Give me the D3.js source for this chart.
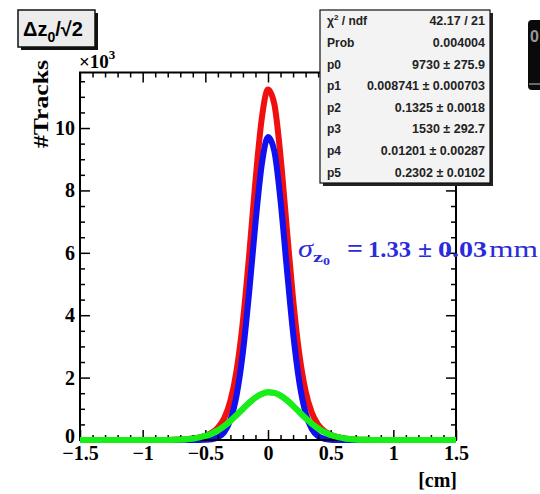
<!DOCTYPE html>
<html><head><meta charset="utf-8">
<script src="https://cdn.jsdelivr.net/npm/d3@7"></script>
<style>body{margin:0;background:#fff}svg{display:block}</style>
</head><body><svg id="c" width="540" height="494"></svg>
<script>
// ---- data ----
const xs = [-1.5,-1.0,-0.95,-0.9,-0.85,-0.8,-0.75,-0.7,-0.65,-0.6,-0.55,-0.5,-0.45,-0.4,-0.35,-0.3,-0.25,-0.2,-0.15,-0.1,-0.05,0,0.05,0.1,0.15,0.2,0.25,0.3,0.35,0.4,0.45,0.5,0.55,0.6,0.65,0.7,0.75,0.8,0.85,0.9,0.95,1.0,1.5];
const blueY = [0,0,0,0,0,0,0,0,0,0.3,1.3,6,24,84,249,645,1447,2814,4749,6950,8820,9709,9269,7674,5510,3432,1853,868,353,124,38,10,2.3,0.5,0,0,0,0,0,0,0,0,0];
const greenY = [0,0.1,0.25,0.6,1.4,3.0,6.4,12.8,24.5,44.7,77.7,129,204,308,444,611,801,1001,1194,1359,1476,1528,1509,1422,1278,1096,897,700,521,370,250,162,100,59,33,17.6,9.0,4.4,2.0,0.9,0.4,0.2,0];
const redY = [0,0.1,0.25,0.6,1.4,3.0,6.4,12.8,24.5,45,79,135,228,392,693,1256,2248,3815,5943,8309,10296,11237,10778,9096,6788,4528,2750,1568,874,494,288,172,102,59.5,33,17.6,9.0,4.4,2.0,0.9,0.4,0.2,0];
const xMajor = [-1.5,-1,-0.5,0,0.5,1,1.5];
const xTickLabels = ["\u22121.5","\u22121","\u22120.5","0","0.5","1","1.5"];
const yMajor = [0,2000,4000,6000,8000,10000];
const yTickLabels = ["0","2","4","6","8","10"];
const statNames = ["\u03c7\u00b2 / ndf","Prob","p0","p1","p2","p3","p4","p5"];
const statValues = ["42.17 / 21","0.004004","9730 \u00b1 275.9","0.008741 \u00b1 0.000703","0.1325 \u00b1 0.0018","1530 \u00b1 292.7","0.01201 \u00b1 0.00287","0.2302 \u00b1 0.0102"];

// ---- layout ----
const svg = d3.select("#c");
const L=80, R=456, T=72.5, B=440;
const x = d3.scaleLinear().domain([-1.5,1.5]).range([L,R]);
const y = d3.scaleLinear().domain([0,11780]).range([B,T]);
const xMinor = d3.range(-15,16).map(d=>d/10).filter(d=>Math.abs(d*2-Math.round(d*2))>1e-6);
const yMinor = d3.range(0,11780,500).filter(d=>d%2000!==0);
const serif = "'Liberation Serif','Times New Roman',serif";
const sans = "'Liberation Sans',Arial,sans-serif";

// curves
const line = d3.line().x((d,i)=>x(xs[i])).y(d=>y(d)).curve(d3.curveMonotoneX);
[[redY,"#f01010"],[blueY,"#1010f0"],[greenY,"#18ee18"]].forEach(([arr,col])=>{
  svg.append("path").attr("d",line(arr)).attr("fill","none").attr("stroke",col)
     .attr("stroke-width",6).attr("stroke-linejoin","round");
});

function styleAxis(g){g.select(".domain").remove();g.selectAll("line").attr("stroke","#000").attr("stroke-width",1.5);}
// bottom
svg.append("g").attr("transform",`translate(0,${B})`)
  .call(d3.axisBottom(x).tickValues(xMajor).tickSize(-10).tickPadding(6).tickFormat((d,i)=>xTickLabels[i]))
  .call(styleAxis)
  .call(g=>g.selectAll("text").attr("font-family",serif).attr("font-weight","bold").attr("font-size",20).attr("fill","#000"));
svg.append("g").attr("transform",`translate(0,${B})`)
  .call(d3.axisBottom(x).tickValues(xMinor).tickSize(-5).tickFormat("")).call(styleAxis);
// top
svg.append("g").attr("transform",`translate(0,${T})`)
  .call(d3.axisTop(x).tickValues(xMajor).tickSize(-10).tickFormat("")).call(styleAxis);
svg.append("g").attr("transform",`translate(0,${T})`)
  .call(d3.axisTop(x).tickValues(xMinor).tickSize(-5).tickFormat("")).call(styleAxis);
// left
svg.append("g").attr("transform",`translate(${L},0)`)
  .call(d3.axisLeft(y).tickValues(yMajor).tickSize(-10).tickPadding(5).tickFormat((d,i)=>yTickLabels[i]))
  .call(styleAxis)
  .call(g=>g.selectAll("text").attr("font-family",serif).attr("font-weight","bold").attr("font-size",20).attr("fill","#000"))
  .call(g=>g.selectAll(".tick").filter(d=>d===0).select("text").attr("dy","0.1em"));
svg.append("g").attr("transform",`translate(${L},0)`)
  .call(d3.axisLeft(y).tickValues(yMinor).tickSize(-5).tickFormat("")).call(styleAxis);
// right
svg.append("g").attr("transform",`translate(${R},0)`)
  .call(d3.axisRight(y).tickValues(yMajor).tickSize(-10).tickFormat("")).call(styleAxis);
svg.append("g").attr("transform",`translate(${R},0)`)
  .call(d3.axisRight(y).tickValues(yMinor).tickSize(-5).tickFormat("")).call(styleAxis);

// frame
svg.append("rect").attr("x",L).attr("y",T).attr("width",R-L).attr("height",B-T)
  .attr("fill","none").attr("stroke","#000").attr("stroke-width",2);
// green baseline on top of frame
svg.append("path").attr("d",line(greenY)).attr("fill","none").attr("stroke","#18ee18")
   .attr("stroke-width",6).attr("stroke-linejoin","round");

// x10^3
const e = svg.append("text").attr("x",79).attr("y",68).attr("font-family",serif).attr("font-weight","bold").attr("font-size",19);
e.append("tspan").text("\u00d710");
e.append("tspan").attr("font-size",13).attr("dy",-9).text("3");

// axis titles
svg.append("text").attr("transform","translate(48,60) rotate(-90)").attr("text-anchor","end")
  .attr("font-family",serif).attr("font-weight","bold").attr("font-size",22)
  .attr("textLength",88).attr("lengthAdjust","spacingAndGlyphs").text("#Tracks");
svg.append("text").attr("x",457).attr("y",487).attr("text-anchor","end")
  .attr("font-family",serif).attr("font-weight","bold").attr("font-size",20).text("[cm]");

// title box
svg.append("rect").attr("x",21).attr("y",13).attr("width",77).attr("height",37).attr("fill","#111");
svg.append("rect").attr("x",18).attr("y",10).attr("width",77).attr("height",37).attr("fill","#ececec").attr("stroke","#111").attr("stroke-width",1.5);
const tt = svg.append("text").attr("x",23).attr("y",36).attr("font-family",sans).attr("font-weight","bold").attr("font-size",20).attr("fill","#000");
tt.append("tspan").text("\u0394z");
tt.append("tspan").attr("font-size",14).attr("dy",6).text("0");
tt.append("tspan").attr("dy",-6).text("/\u221a2");

// stats box
const sx=320, sy=10, sw=170, sh=173;
svg.append("rect").attr("x",sx+3).attr("y",sy+3).attr("width",sw).attr("height",sh).attr("fill","#222");
svg.append("rect").attr("x",sx).attr("y",sy).attr("width",sw).attr("height",sh).attr("fill","#f3f3f3").attr("stroke","#111").attr("stroke-width",1.2);
const rowH = sh/statNames.length;
statNames.forEach((n,i)=>{
  const yy = sy + rowH*(i+0.5) + 4.5;
  const t = svg.append("text").attr("x",sx+7).attr("y",yy).attr("font-family",sans).attr("font-weight","bold").attr("font-size",12).attr("fill","#222");
  if(i===0){ t.append("tspan").text("\u03c7"); t.append("tspan").attr("font-size",8).attr("dy",-5).text("2"); t.append("tspan").attr("dy",5).text(" / ndf"); }
  else t.text(n);
  svg.append("text").attr("x",sx+sw-5).attr("y",yy).attr("text-anchor","end").attr("font-family",sans).attr("font-weight","bold").attr("font-size",12.5).attr("fill","#222").text(statValues[i]);
});

// dark artifact top right
svg.append("rect").attr("x",528).attr("y",20).attr("width",20).attr("height",70).attr("rx",4).attr("fill","#0a0a0a");
svg.append("text").attr("x",530).attr("y",42).attr("font-family",sans).attr("font-weight","bold").attr("font-size",16).attr("fill","#999").text("0");
svg.append("line").attr("x1",529).attr("x2",540).attr("y1",84).attr("y2",84).attr("stroke","#888").attr("stroke-width",1.5);

// sigma annotation
const blue="#2b2bdc";
const sg = svg.append("g").attr("fill",blue).attr("font-family",serif);
function piece(txt,x0,w,yb,size,opts){
  const t=sg.append("text").attr("x",x0).attr("y",yb).attr("font-size",size)
    .attr("textLength",w).attr("lengthAdjust","spacingAndGlyphs").text(txt);
  if(opts&&opts.bold) t.attr("font-weight","bold");
  if(opts&&opts.italic) t.attr("font-style","italic");
  return t;
}
piece("\u03c3",298,15,257,25,{italic:true});
piece("z",313,10,262,15,{bold:true});
piece("0",323,7,265,11,{bold:true});
piece("=",347,16,257,25,{bold:true});
piece("1.33",368,43,257,24,{bold:true});
piece("\u00b1",418,14,257,24,{bold:true});
piece("0.03",438,49,257,24,{bold:true});
piece("mm",489,49,257,24,{});
</script></body></html>
